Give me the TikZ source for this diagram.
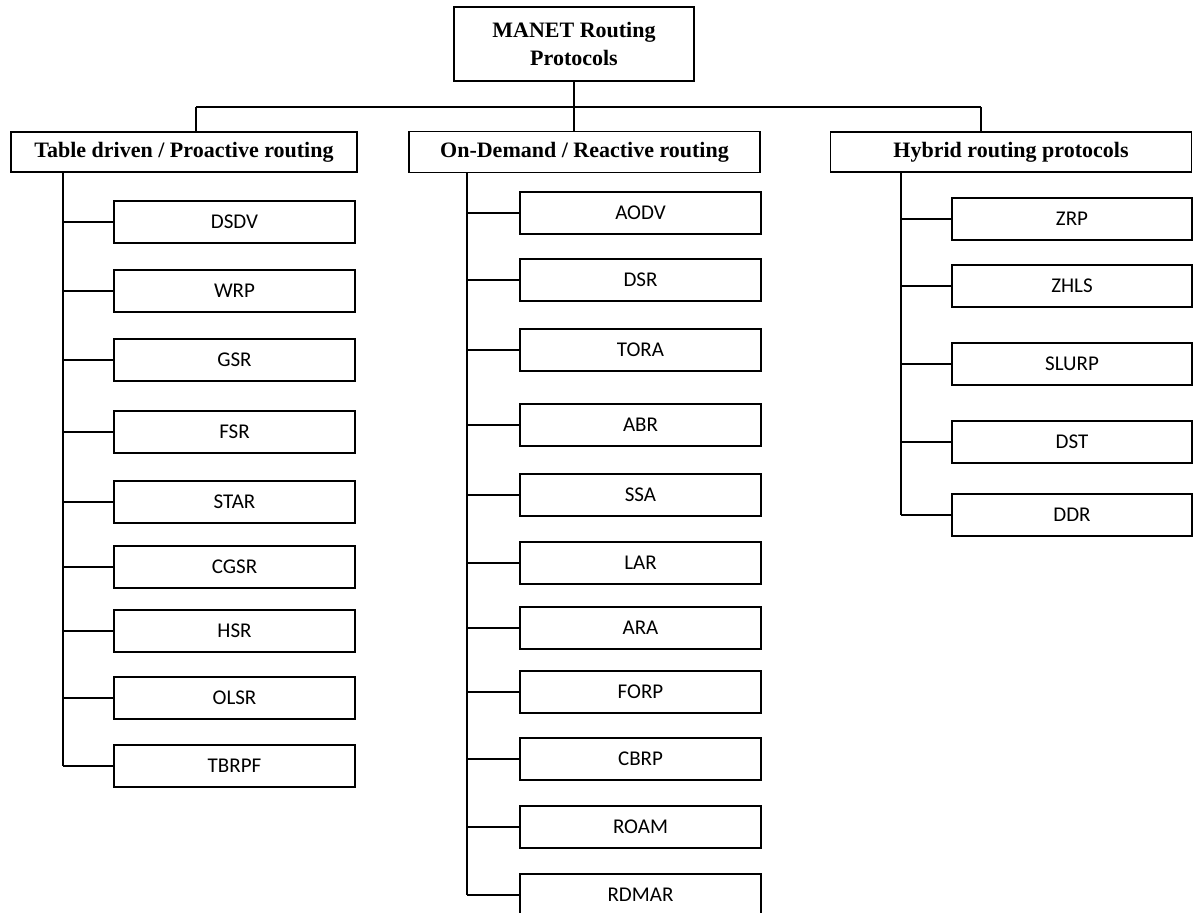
\documentclass[tikz,border=0pt]{standalone}
\usepackage{fontspec}
\setmainfont{Liberation Serif}
\newfontfamily\protofont{Carlito}
\usepackage{tikz}

\tikzset{
  headbox/.style={draw,line width=1.3pt,inner sep=0pt,align=center,
    font=\fontsize{22}{28}\selectfont\bfseries},
  protobox/.style={draw,line width=1.3pt,inner sep=0pt,minimum width=241pt,
    minimum height=42pt,font=\protofont\fontsize{21}{24}\selectfont},
  link/.style={line width=1.3pt}
}

\begin{document}
\begin{tikzpicture}[x=1pt,y=-1pt]
  \useasboundingbox (0,0) rectangle (1195,913);

  % Root and the three families
  \node[headbox,minimum width=240pt,minimum height=74pt] (manet) at (574,44)
    {MANET Routing\\Protocols};
  \node[headbox,minimum width=346pt,minimum height=40pt] (proact) at (184,152)
    {Table driven / Proactive routing};
  \node[headbox,minimum width=351pt,minimum height=41pt] (react) at (584.5,152)
    {On-Demand / Reactive routing};
  \node[headbox,minimum width=361pt,minimum height=40pt] (hybrid) at (1011,152)
    {Hybrid routing protocols};

  % Bus under the root
  \coordinate (busL) at (196,107);
  \coordinate (busR) at (981,107);
  \draw[link] (busL) -- (busR);
  \draw[link] (busL) -- (busL |- proact.north);
  \draw[link] (busR) -- (busR |- hybrid.north);
  \draw[link] (manet.south) -- (manet.south |- react.north);

  % Trunks
  \coordinate (trunkA) at (63,0);
  \coordinate (trunkB) at (467,0);
  \coordinate (trunkC) at (901,0);

  % Proactive protocols
  \foreach \nm/\lab/\y in {dsdv/DSDV/222,wrp/WRP/291,gsr/GSR/360,fsr/FSR/432,
      star/STAR/502,cgsr/CGSR/567,hsr/HSR/631,olsr/OLSR/698,tbrpf/TBRPF/766} {
    \node[protobox] (\nm) at (234.5,\y) {\lab};
    \draw[link] (\nm.west) -- (\nm.west -| trunkA);
  }
  \draw[link] (proact.south -| trunkA) -- (tbrpf.west -| trunkA);

  % Reactive protocols
  \foreach \nm/\lab/\y in {aodv/AODV/213,dsr/DSR/280,tora/TORA/350,abr/ABR/425,
      ssa/SSA/495,lar/LAR/563,ara/ARA/628,forp/FORP/692,cbrp/CBRP/759,
      roam/ROAM/827,rdmar/RDMAR/895} {
    \node[protobox] (\nm) at (640.5,\y) {\lab};
    \draw[link] (\nm.west) -- (\nm.west -| trunkB);
  }
  \draw[link] (react.south -| trunkB) -- (rdmar.west -| trunkB);

  % Hybrid protocols
  \foreach \nm/\lab/\y in {zrp/ZRP/219,zhls/ZHLS/286,slurp/SLURP/364,
      dst/DST/442,ddr/DDR/515} {
    \node[protobox,minimum width=240pt] (\nm) at (1072,\y) {\lab};
    \draw[link] (\nm.west) -- (\nm.west -| trunkC);
  }
  \draw[link] (hybrid.south -| trunkC) -- (ddr.west -| trunkC);
\end{tikzpicture}
\end{document}
